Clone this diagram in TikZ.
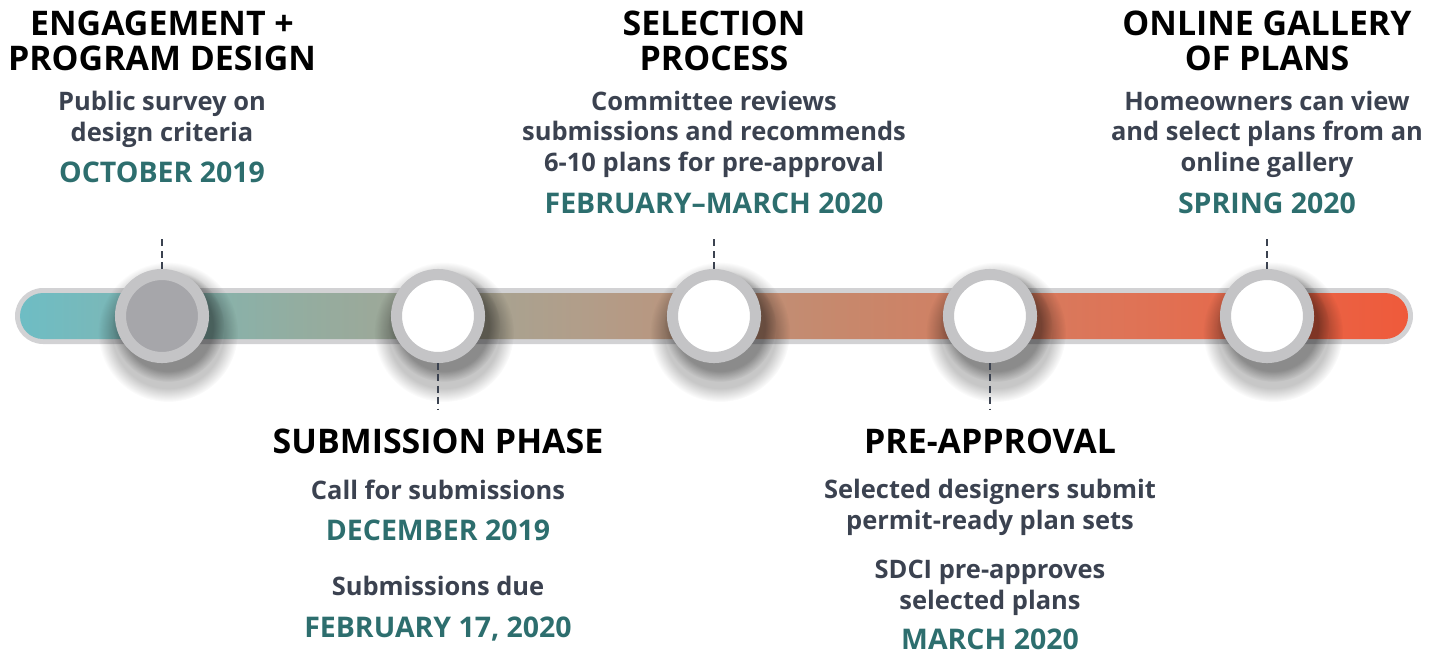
\documentclass[tikz,border=0pt]{standalone}
\usepackage{fontspec}
\setmainfont{Open Sans}
\usetikzlibrary{shadows,fadings}

\definecolor{descgray}{HTML}{3B4250}
\definecolor{dateteal}{HTML}{2D6E6E}
\definecolor{ringgray}{HTML}{C4C4C6}
\definecolor{dotgray}{HTML}{A6A6AA}
\definecolor{trackgray}{HTML}{D2D2D4}
\definecolor{tlA}{HTML}{6EBDC4}
\definecolor{tlB}{HTML}{93ADA0}
\definecolor{tlC}{HTML}{B19E8A}
\definecolor{tlD}{HTML}{C8876B}
\definecolor{tlE}{HTML}{DF7356}
\definecolor{tlF}{HTML}{EF5A3B}

\pgfdeclarehorizontalshading{timeline}{100bp}{color(0bp)=(tlA); color(25bp)=(tlA);
  color(35bp)=(tlB); color(45bp)=(tlC); color(55bp)=(tlD); color(65bp)=(tlE);
  color(75bp)=(tlF); color(100bp)=(tlF)}

\tikzset{
  headtext/.style={font=\bfseries\fontsize{19.3}{19.4}\selectfont, align=center, anchor=base, inner sep=0pt},
  desctext/.style={text=descgray, font=\bfseries\fontsize{14.5}{17.1}\selectfont, align=center, anchor=base, inner sep=0pt},
  datetext/.style={text=dateteal, font=\bfseries\fontsize{16.2}{17}\selectfont, align=center, anchor=base, inner sep=0pt},
  ring/.style={circle, draw=ringgray, line width=6.3pt, minimum size=1.66cm, fill=white, inner sep=0pt},
  leader/.style={draw=descgray, line width=1.1pt, dash pattern=on 4pt off 2.5pt},
}

\begin{document}
\begin{tikzpicture}[x=0.02cm, y=-0.02cm]
  \useasboundingbox (0,0) rectangle (1445,653);

  % track
  \fill[trackgray, rounded corners=0.56cm] (15,288) rectangle (1413,344);
  \shade[shading=timeline, rounded corners=0.46cm] (20,293) rectangle (1408,339);

  % soft shadows under the milestones
  \foreach \cx in {162,438,714,990,1267} {
    \fill[black, opacity=.22, path fading={circle with fuzzy edge 20 percent}] (\cx+6,332) circle (1.4cm);
    \fill[black, opacity=.3, path fading={circle with fuzzy edge 20 percent}] (\cx+6,326) circle (1.12cm);
  }

  % milestones
  \node[ring, fill=dotgray] (c1) at (162,316) {};
  \node[ring] (c2) at (438,316) {};
  \node[ring] (c3) at (714,316) {};
  \node[ring] (c4) at (990,316) {};
  \node[ring] (c5) at (1267,316) {};

  \coordinate (t1) at (162,237);
  \coordinate (t2) at (438,410);
  \coordinate (t3) at (714,237);
  \coordinate (t4) at (990,410);
  \coordinate (t5) at (1267,237);
  \foreach \i in {1,...,5}
    \draw[leader] (c\i) -- (t\i);

  % upper labels (placed at the baseline of their last line)
  \node[headtext] (h1) at (162,70) {ENGAGEMENT +\\PROGRAM DESIGN};
  \node[desctext] (d1) at (162,141) {Public survey on\\design criteria};
  \node[datetext] (w1) at (162,182) {OCTOBER 2019};

  \node[headtext] (h3) at (714,70) {SELECTION\\PROCESS};
  \node[desctext] (d3) at (714,171) {Committee reviews\\submissions and recommends\\6-10 plans for pre-approval};
  \node[datetext] (w3) at (714,213) {FEBRUARY–MARCH 2020};

  \node[headtext] (h5) at (1267,70) {ONLINE GALLERY\\OF PLANS};
  \node[desctext] (d5) at (1267,171) {Homeowners can view\\and select plans from an\\online gallery};
  \node[datetext] (w5) at (1267,213) {SPRING 2020};

  % lower labels
  \node[headtext] (h2) at (438,453) {SUBMISSION PHASE};
  \node[desctext] (d2) at (438,499) {Call for submissions};
  \node[datetext] (w2) at (438,540) {DECEMBER 2019};
  \node[desctext] (e2) at (438,595) {Submissions due};
  \node[datetext] (v2) at (438,637) {FEBRUARY 17, 2020};

  \node[headtext] (h4) at (990,453) {PRE-APPROVAL};
  \node[desctext] (d4) at (990,529) {Selected designers submit\\permit-ready plan sets};
  \node[desctext] (e4) at (990,609) {SDCI pre-approves\\selected plans};
  \node[datetext] (w4) at (990,649) {MARCH 2020};
\end{tikzpicture}
\end{document}
